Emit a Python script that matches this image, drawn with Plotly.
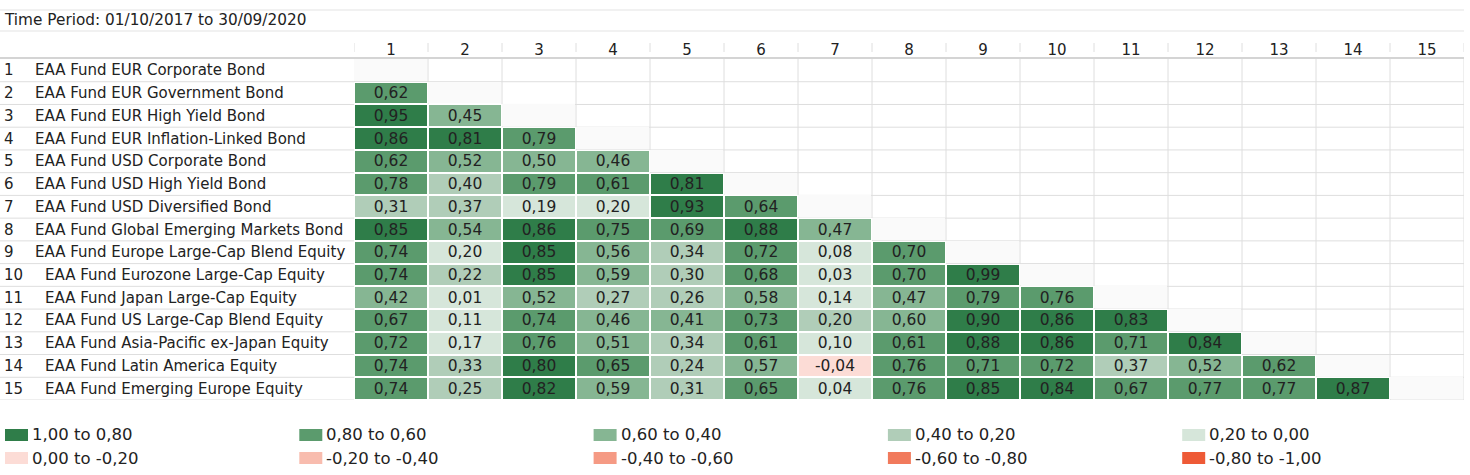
import plotly.graph_objects as go

# ---------------- data ----------------
time_period = "Time Period: 01/10/2017 to 30/09/2020"

fund_names = [
    "EAA Fund EUR Corporate Bond",
    "EAA Fund EUR Government Bond",
    "EAA Fund EUR High Yield Bond",
    "EAA Fund EUR Inflation-Linked Bond",
    "EAA Fund USD Corporate Bond",
    "EAA Fund USD High Yield Bond",
    "EAA Fund USD Diversified Bond",
    "EAA Fund Global Emerging Markets Bond",
    "EAA Fund Europe Large-Cap Blend Equity",
    "EAA Fund Eurozone Large-Cap Equity",
    "EAA Fund Japan Large-Cap Equity",
    "EAA Fund US Large-Cap Blend Equity",
    "EAA Fund Asia-Pacific ex-Japan Equity",
    "EAA Fund Latin America Equity",
    "EAA Fund Emerging Europe Equity",
]

# lower-triangle correlations, row i holds columns 1..i-1
corr_rows = [
    [],
    [0.62],
    [0.95, 0.45],
    [0.86, 0.81, 0.79],
    [0.62, 0.52, 0.50, 0.46],
    [0.78, 0.398, 0.79, 0.61, 0.81],
    [0.31, 0.37, 0.19, 0.197, 0.93, 0.64],
    [0.85, 0.54, 0.86, 0.75, 0.69, 0.88, 0.47],
    [0.74, 0.197, 0.85, 0.56, 0.34, 0.72, 0.08, 0.70],
    [0.74, 0.22, 0.85, 0.59, 0.30, 0.68, 0.03, 0.70, 0.99],
    [0.42, 0.01, 0.52, 0.27, 0.26, 0.58, 0.14, 0.47, 0.79, 0.76],
    [0.67, 0.11, 0.74, 0.46, 0.41, 0.73, 0.203, 0.598, 0.90, 0.86, 0.83],
    [0.72, 0.17, 0.76, 0.51, 0.34, 0.61, 0.10, 0.61, 0.88, 0.86, 0.71, 0.84],
    [0.74, 0.33, 0.803, 0.65, 0.24, 0.57, -0.04, 0.76, 0.71, 0.72, 0.37, 0.52, 0.62],
    [0.74, 0.25, 0.82, 0.59, 0.31, 0.65, 0.04, 0.76, 0.85, 0.84, 0.67, 0.77, 0.77, 0.87],
]

legend_labels = [
    "1,00 to 0,80", "0,80 to 0,60", "0,60 to 0,40", "0,40 to 0,20", "0,20 to 0,00",
    "0,00 to -0,20", "-0,20 to -0,40", "-0,40 to -0,60", "-0,60 to -0,80", "-0,80 to -1,00",
]
# colours matching legend_labels order (high -> low)
bin_colors = [
    "#2f7d49", "#5b9b6d", "#86b693", "#b0cdb8", "#d6e6da",
    "#fcdcd6", "#f8bcae", "#f59a84", "#f17a5c", "#ee5a36",
]

# ---------------- layout constants ----------------
W, H = 1470, 475
FONT = "DejaVu Sans"
TXT = "#222222"
GRID = "#dedede"
PLOT_TOP, PLOT_BOT = 59, 400
COL_L, COL_R = 354, 1464

n = len(fund_names)
idx = list(range(1, n + 1))


def px_x(p):
    return p / W


def px_y(p):
    return (PLOT_BOT - p) / (PLOT_BOT - PLOT_TOP)


# matrices
z_vals = [[None] * n for _ in range(n)]
z_text = [[""] * n for _ in range(n)]
z_under = [[None] * n for _ in range(n)]
z_diag = [[None] * n for _ in range(n)]
for i, row in enumerate(corr_rows):
    z_diag[i][i] = 1
    for j, v in enumerate(row):
        z_vals[i][j] = v
        z_text[i][j] = f"{v:.2f}".replace(".", ",")
        z_under[i][j] = 1

# stepped colour scale on [-1, 1]
asc_colors = bin_colors[::-1]
colorscale = []
for k, c in enumerate(asc_colors):
    colorscale.append([k / len(asc_colors), c])
    colorscale.append([(k + 1) / len(asc_colors), c])

fig = go.Figure()

# white underlay hides grid lines beneath coloured cells
fig.add_trace(go.Heatmap(
    x=idx, y=idx, z=z_under, colorscale=[[0, "white"], [1, "white"]],
    showscale=False, hoverinfo="skip", zmin=0, zmax=1,
))
# diagonal cells
fig.add_trace(go.Heatmap(
    x=idx, y=idx, z=z_diag, colorscale=[[0, "#fafafa"], [1, "#fafafa"]],
    showscale=False, hoverinfo="skip", xgap=1, ygap=1, zmin=0, zmax=1,
))
# correlations
fig.add_trace(go.Heatmap(
    x=idx, y=idx, z=z_vals, text=z_text, texttemplate="%{text}",
    textfont=dict(family=FONT, size=15.5, color=TXT),
    colorscale=colorscale, zmin=-1, zmax=1, showscale=False,
    xgap=2, ygap=2, hovertemplate="%{y} / %{x}: %{text}<extra></extra>",
))

shapes = []
# vertical grid lines in the data area
for b in range(n + 1):
    xb = b + 0.5
    shapes.append(dict(type="line", xref="x", yref="y", x0=xb, x1=xb, y0=0.5, y1=n + 0.5,
                       line=dict(color=GRID, width=1), layer="below"))
    # small separators in the header row
    shapes.append(dict(type="line", xref="x", yref="paper", x0=xb, x1=xb,
                       y0=px_y(52), y1=px_y(43), line=dict(color=GRID, width=1)))
# horizontal row lines across the whole table
for b in range(1, n + 1):
    yb = b + 0.5
    shapes.append(dict(type="line", xref="paper", yref="y", x0=0, x1=px_x(COL_R),
                       y0=yb, y1=yb, line=dict(color=GRID, width=1), layer="below"))
# top rules and header rule
for p, c, w in [(10, "#e3e3e3", 1), (31, "#e3e3e3", 1), (58, "#d4d4d4", 2)]:
    shapes.append(dict(type="line", xref="paper", yref="paper", x0=0, x1=px_x(COL_R),
                       y0=px_y(p), y1=px_y(p), line=dict(color=c, width=w)))

annotations = [dict(
    text=time_period, xref="paper", yref="paper", x=px_x(2), y=px_y(20),
    xanchor="left", yanchor="middle", showarrow=False,
    font=dict(family=FONT, size=15.3, color=TXT),
)]
for i, name in enumerate(fund_names, start=1):
    annotations.append(dict(text=str(i), xref="paper", yref="y", x=px_x(2), y=i,
                            xanchor="left", yanchor="middle", showarrow=False,
                            font=dict(family=FONT, size=15, color=TXT)))
    annotations.append(dict(text=name, xref="paper", yref="y",
                            x=px_x(33 if i < 10 else 43), y=i,
                            xanchor="left", yanchor="middle", showarrow=False,
                            font=dict(family=FONT, size=15, color=TXT)))

# legend (2 rows x 5 columns)
for k, (lab, col) in enumerate(zip(legend_labels, bin_colors)):
    r, c = divmod(k, 5)
    sx = 5 + c * 294.3
    cy = 435 + r * 23
    shapes.append(dict(type="rect", xref="paper", yref="paper",
                       x0=px_x(sx), x1=px_x(sx + 23), y0=px_y(cy + 6), y1=px_y(cy - 6),
                       fillcolor=col, line=dict(width=0)))
    annotations.append(dict(text=lab, xref="paper", yref="paper", x=px_x(sx + 25), y=px_y(cy),
                            xanchor="left", yanchor="middle", showarrow=False,
                            font=dict(family=FONT, size=16.5, color=TXT)))

fig.update_layout(
    width=W, height=H,
    margin=dict(l=0, r=0, t=PLOT_TOP, b=H - PLOT_BOT, pad=0),
    paper_bgcolor="white", plot_bgcolor="white",
    font=dict(family=FONT, size=15, color=TXT),
    xaxis=dict(domain=[COL_L / W, COL_R / W], range=[0.5, n + 0.5], side="top",
               tickvals=idx, ticktext=[str(i) for i in idx], ticks="",
               showgrid=False, zeroline=False, showline=False, fixedrange=True,
               tickfont=dict(family=FONT, size=15, color=TXT)),
    yaxis=dict(range=[n + 0.5, 0.5], showticklabels=False, showgrid=False,
               zeroline=False, showline=False, fixedrange=True),
    shapes=shapes, annotations=annotations, showlegend=False,
)

fig.write_html("out.html", config={"displayModeBar": False},
               post_script="document.body.style.margin='0';")
